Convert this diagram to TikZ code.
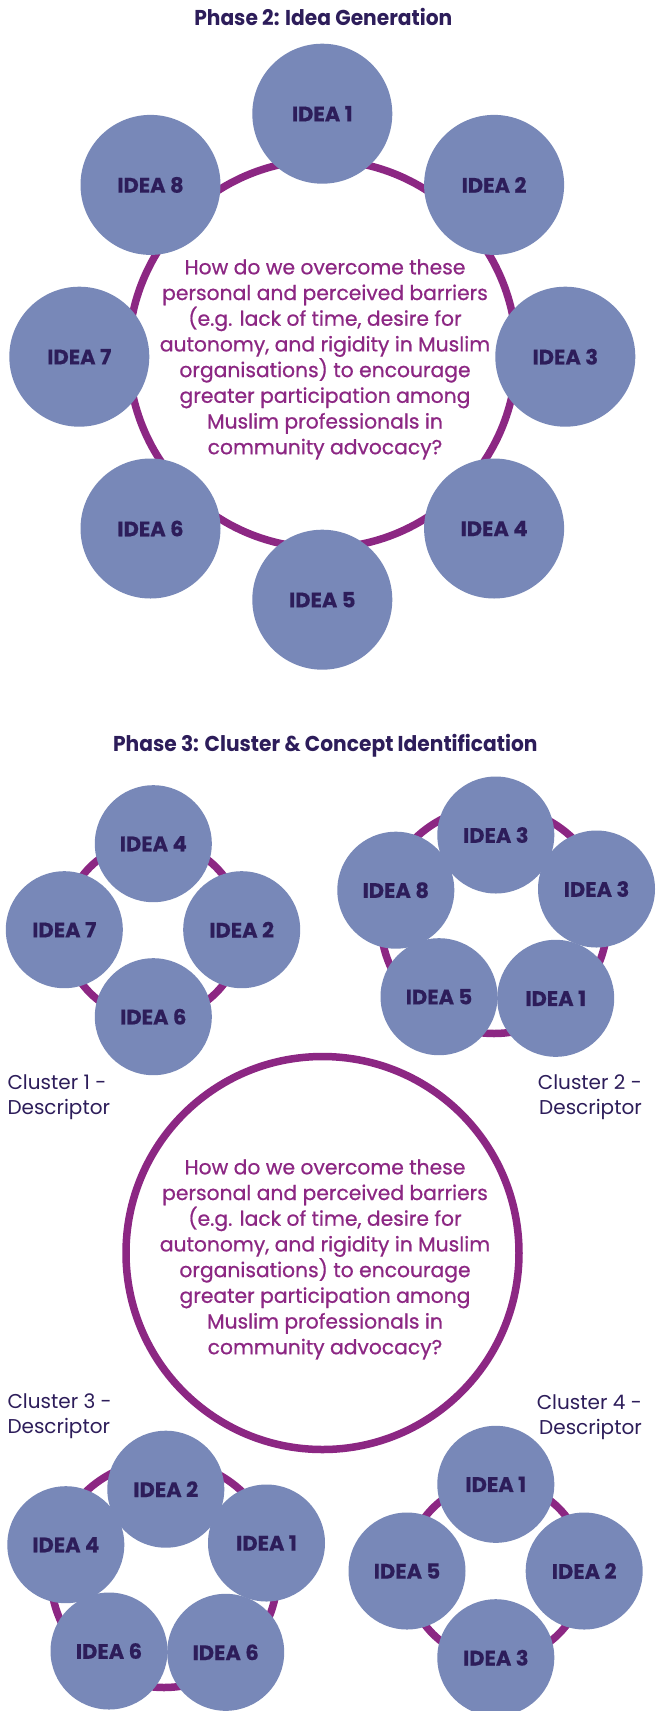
\documentclass[tikz,border=0pt]{standalone}
\usepackage{fontspec}
\setmainfont{Poppins}
\newfontfamily\ideafont{Poppins}[BoldFeatures={FakeBold=0.5}]
\newfontfamily\headfont{Poppins}[FakeStretch=0.94]
\newfontfamily\qfont{Poppins}[FakeBold=0.7]
\definecolor{ideafill}{HTML}{7888B8}
\definecolor{ringpurple}{HTML}{8C2783}
\definecolor{navy}{HTML}{2D1D5A}
\tikzset{
  idea/.style={circle, fill=ideafill, minimum size=140pt, inner sep=0pt,
    font=\ideafont\bfseries\fontsize{21}{25}\selectfont, text=navy},
  smallidea/.style={idea, minimum size=117pt},
  ring/.style={circle, draw=ringpurple, line width=7.5pt, inner sep=0pt},
  question/.style={align=center, text=ringpurple, inner sep=0pt,
    font=\qfont\fontsize{20.3}{25.7}\selectfont},
  heading/.style={inner sep=0pt, text=navy,
    font=\headfont\bfseries\fontsize{21.5}{25}\selectfont},
  clusterlabel/.style={inner sep=0pt, text=navy,
    font=\fontsize{20}{25}\selectfont},
}
\begin{document}
\begin{tikzpicture}[x=1pt, y=-1pt]
\useasboundingbox[fill=white] (0,0) rectangle (659,1711);

% ---------- Phase 2 ----------
\node[heading, anchor=base] (t2) at (323.3,25) {Phase 2: Idea Generation};
\node[ring, minimum size=388pt] (ring2) at (322.5,354) {};
% base anchor of a multi-line node sits on its last line
\node[question, anchor=base] (q2) at (325,454.2) {How do we overcome these\\personal and perceived barriers\\(e.g. lack of time, desire for\\autonomy, and rigidity in Muslim\\organisations) to encourage\\greater participation among\\Muslim professionals in\\community advocacy?};
\node[idea] (a1) at (322.3,113.7) {IDEA 1};
\node[idea] (a2) at (494.1,184.9) {IDEA 2};
\node[idea] (a3) at (565.3,356.7) {IDEA 3};
\node[idea] (a4) at (494.1,528.5) {IDEA 4};
\node[idea] (a5) at (322.3,599.7) {IDEA 5};
\node[idea] (a6) at (150.5,528.5) {IDEA 6};
\node[idea] (a7) at (79.3,356.7) {IDEA 7};
\node[idea] (a8) at (150.5,184.9) {IDEA 8};

% ---------- Phase 3 ----------
\node[heading, anchor=base] (t3) at (325.3,751.5) {Phase 3: Cluster \& Concept Identification};

% cluster 1
\node[ring, minimum size=178pt] (ringc1) at (153,930) {};
\node[smallidea] (c1a) at (153.3,843.7) {IDEA 4};
\node[smallidea] (c1b) at (64.3,929.7) {IDEA 7};
\node[smallidea] (c1c) at (241.7,929.7) {IDEA 2};
\node[smallidea] (c1d) at (153.3,1016.7) {IDEA 6};

% cluster 2
\node[ring, minimum size=227pt] (ringc2) at (494,920) {};
\node[smallidea] (c2a) at (495.8,835) {IDEA 3};
\node[smallidea] (c2b) at (596.5,889) {IDEA 3};
\node[smallidea] (c2c) at (395.8,890.2) {IDEA 8};
\node[smallidea] (c2d) at (439,996.7) {IDEA 5};
\node[smallidea] (c2e) at (555.7,998.3) {IDEA 1};

% central question
\node[ring, minimum size=393pt] (ring3) at (322.5,1253) {};
\node[question, anchor=base] (q3) at (325,1354.2) {How do we overcome these\\personal and perceived barriers\\(e.g. lack of time, desire for\\autonomy, and rigidity in Muslim\\organisations) to encourage\\greater participation among\\Muslim professionals in\\community advocacy?};

% cluster labels
\node[clusterlabel, align=left, anchor=base west] (l1) at (7.3,1114.3) {Cluster 1 -\\Descriptor};
\node[clusterlabel, align=right, anchor=base east] (l2) at (642,1114.3) {Cluster 2 -\\Descriptor};
\node[clusterlabel, align=left, anchor=base west] (l3) at (7.3,1433.8) {Cluster 3 -\\Descriptor};
\node[clusterlabel, align=right, anchor=base east] (l4) at (642,1434) {Cluster 4 -\\Descriptor};

% cluster 3
\node[ring, minimum size=227pt] (ringc3) at (164,1574) {};
\node[smallidea] (c3a) at (165.8,1489.2) {IDEA 2};
\node[smallidea] (c3b) at (65.8,1544.7) {IDEA 4};
\node[smallidea] (c3c) at (266.5,1543) {IDEA 1};
\node[smallidea] (c3d) at (109,1651) {IDEA 6};
\node[smallidea] (c3e) at (225.7,1652.3) {IDEA 6};

% cluster 4
\node[ring, minimum size=178pt] (ringc4) at (495.8,1571) {};
\node[smallidea] (c4a) at (495.8,1484.3) {IDEA 1};
\node[smallidea] (c4b) at (407,1571) {IDEA 5};
\node[smallidea] (c4c) at (584.2,1571) {IDEA 2};
\node[smallidea] (c4d) at (495.8,1657.7) {IDEA 3};
\end{tikzpicture}
\end{document}
